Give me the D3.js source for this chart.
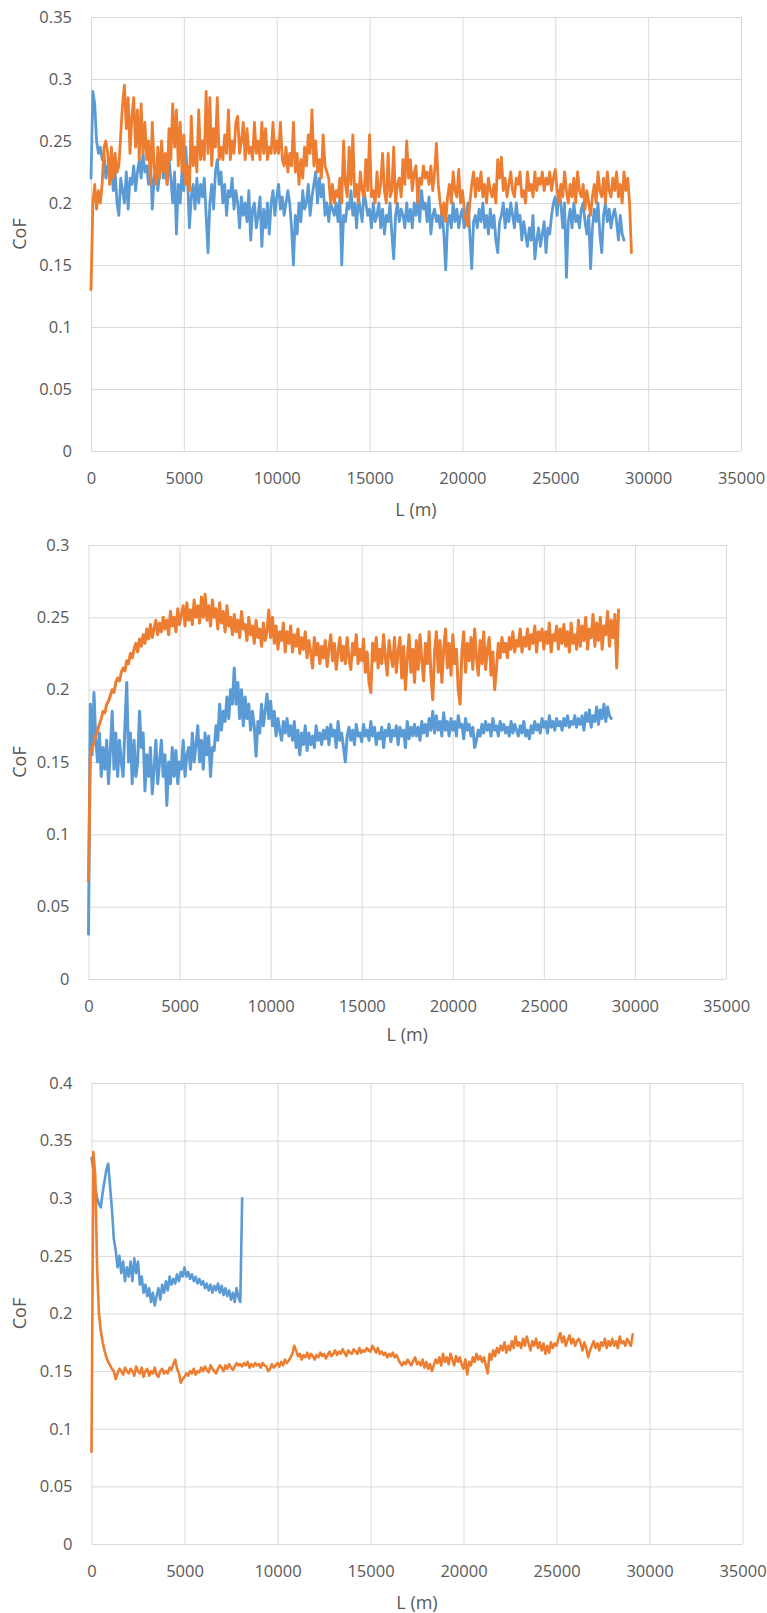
<!DOCTYPE html>
<html><head><meta charset="utf-8">
<script src="https://cdn.jsdelivr.net/npm/d3@7"></script>
<style>
html,body{margin:0;padding:0;background:#fff;}
svg{display:block;}
.tick text{font-family:"Open Sans",sans-serif;font-size:16.5px;fill:#595959;}
.title{font-family:"Open Sans",sans-serif;font-size:18px;fill:#595959;}
</style></head><body>
<svg id="chart" width="767" height="1613"></svg>
<script>
// ---------- tick labels ----------
const xTicks = [0,5000,10000,15000,20000,25000,30000,35000];
const p1YTicks = [0,0.05,0.1,0.15,0.2,0.25,0.3,0.35];
const p2YTicks = [0,0.05,0.1,0.15,0.2,0.25,0.3];
const p3YTicks = [0,0.05,0.1,0.15,0.2,0.25,0.3,0.35,0.4];
const xTitle = "L (m)";
const yTitle = "CoF";
// sampling interval of the series (m)
const STEP = 100;

// ---------- panel 1 ----------
const p1Blue = [
.22,.29,.28,.25,.24,.245,.235,.24,.22,.23,
.225,.23,.21,.225,.2,.19,.22,.21,.2,.225,
.195,.22,.215,.23,.21,.225,.235,.22,.24,.225,
.23,.215,.235,.195,.22,.23,.21,.225,.235,.22,
.23,.215,.235,.22,.2,.225,.175,.215,.2,.225,
.21,.245,.22,.18,.205,.215,.195,.22,.2,.215,
.205,.22,.19,.16,.2,.215,.195,.225,.235,.215,
.225,.2,.215,.19,.21,.205,.22,.195,.21,.2,
.18,.205,.19,.2,.185,.21,.17,.195,.2,.18,
.19,.205,.165,.195,.18,.2,.175,.2,.21,.19,
.205,.215,.195,.205,.19,.2,.21,.2,.18,.15,
.19,.175,.2,.185,.21,.195,.2,.215,.19,.205,
.215,.225,.2,.22,.205,.215,.19,.2,.185,.2,
.195,.19,.2,.185,.205,.15,.19,.185,.2,.195,
.21,.19,.2,.18,.205,.195,.185,.21,.2,.19,
.195,.18,.2,.185,.19,.2,.18,.195,.175,.19,
.185,.2,.175,.155,.19,.2,.185,.195,.19,.18,
.2,.185,.195,.18,.2,.19,.205,.185,.21,.195,
.2,.185,.205,.175,.19,.195,.185,.19,.18,.195,
.175,.146,.185,.19,.18,.2,.185,.195,.18,.19,
.195,.18,.19,.2,.175,.147,.185,.19,.18,.195,
.185,.2,.18,.19,.175,.195,.18,.19,.17,.16,
.185,.19,.2,.18,.195,.185,.2,.19,.18,.2,
.185,.19,.17,.185,.175,.165,.18,.17,.19,.155,
.17,.18,.165,.175,.185,.16,.18,.175,.19,.2,
.205,.19,.21,.2,.18,.2,.14,.185,.195,.18,
.2,.185,.19,.18,.195,.2,.185,.175,.19,.147,
.18,.195,.185,.2,.175,.16,.19,.2,.185,.195,
.18,.19,.195,.185,.17,.19,.175,.17];
const p1Orange = [
.13,.2,.215,.195,.21,.2,.215,.245,.25,.24,
.215,.245,.22,.24,.225,.23,.255,.28,.295,.26,
.285,.24,.27,.285,.245,.275,.235,.28,.24,.265,
.235,.25,.215,.265,.23,.215,.245,.22,.25,.225,
.24,.215,.26,.235,.28,.245,.275,.23,.265,.225,
.255,.215,.23,.21,.27,.23,.245,.225,.275,.235,
.25,.235,.29,.24,.285,.23,.26,.245,.285,.235,
.245,.235,.255,.24,.275,.235,.25,.24,.265,.27,
.24,.25,.265,.235,.26,.24,.245,.235,.265,.24,
.25,.235,.265,.24,.26,.235,.245,.24,.265,.24,
.25,.24,.265,.235,.23,.245,.225,.24,.23,.265,
.225,.24,.215,.235,.22,.245,.23,.255,.24,.275,
.23,.25,.225,.235,.22,.255,.23,.225,.22,.2,
.215,.2,.21,.205,.22,.2,.25,.215,.205,.245,
.215,.255,.205,.215,.2,.225,.21,.205,.235,.21,
.255,.205,.21,.2,.225,.205,.215,.24,.21,.2,
.24,.205,.21,.245,.2,.215,.22,.205,.235,.215,
.25,.22,.235,.21,.225,.23,.2,.22,.215,.23,
.22,.225,.215,.23,.21,.225,.248,.215,.2,.19,
.2,.185,.205,.215,.2,.225,.21,.205,.227,.2,
.21,.195,.185,.181,.2,.215,.225,.205,.22,.21,
.225,.205,.215,.2,.22,.21,.205,.215,.2,.235,
.22,.237,.21,.22,.205,.215,.225,.21,.205,.22,
.215,.225,.205,.21,.2,.225,.21,.215,.205,.225,
.21,.22,.215,.225,.21,.22,.215,.225,.21,.22,
.227,.21,.2,.215,.205,.225,.21,.2,.215,.205,
.22,.2,.225,.21,.205,.215,.195,.21,.2,.19,
.205,.215,.2,.225,.21,.205,.22,.2,.225,.21,
.205,.22,.21,.225,.205,.215,.2,.225,.21,.22,
.2,.16];

// ---------- panel 2 ----------
const p2Blue = [
.031,.19,.155,.198,.165,.15,.17,.14,.16,.145,
.165,.135,.158,.185,.145,.17,.14,.165,.15,.14,
.175,.205,.15,.17,.135,.165,.14,.15,.185,.16,
.17,.13,.155,.14,.16,.128,.145,.165,.135,.15,
.165,.14,.155,.12,.15,.135,.16,.14,.158,.135,
.15,.145,.165,.14,.155,.16,.145,.17,.15,.162,
.175,.15,.165,.145,.17,.155,.168,.14,.16,.158,
.175,.165,.19,.172,.185,.178,.195,.18,.2,.19,
.215,.19,.205,.18,.2,.175,.195,.18,.19,.172,
.185,.175,.154,.178,.17,.19,.175,.185,.197,.18,
.192,.175,.185,.168,.18,.172,.165,.178,.17,.18,
.168,.175,.165,.178,.16,.172,.155,.17,.162,.175,
.158,.17,.162,.168,.16,.175,.165,.17,.162,.172,
.166,.174,.162,.176,.168,.172,.16,.178,.165,.17,
.16,.15,.168,.174,.165,.172,.162,.176,.168,.17,
.164,.176,.168,.172,.165,.178,.168,.174,.162,.17,
.166,.174,.16,.172,.168,.176,.164,.172,.168,.175,
.162,.174,.168,.172,.16,.178,.166,.174,.168,.176,
.168,.174,.165,.178,.17,.176,.168,.18,.172,.185,
.17,.182,.172,.178,.168,.184,.172,.178,.168,.18,
.172,.178,.168,.182,.174,.176,.166,.18,.172,.176,
.168,.174,.16,.165,.172,.168,.176,.17,.178,.172,
.176,.168,.18,.172,.175,.168,.178,.172,.176,.17,
.174,.168,.178,.17,.176,.172,.168,.175,.17,.178,
.168,.172,.166,.175,.17,.178,.172,.176,.17,.18,
.174,.178,.17,.182,.174,.178,.172,.18,.175,.178,
.172,.18,.175,.182,.174,.178,.176,.182,.174,.18,
.176,.182,.172,.184,.178,.186,.174,.182,.178,.188,
.176,.186,.18,.19,.178,.188,.182,.18];
const p2Orange = [
.068,.155,.16,.163,.168,.172,.176,.18,.185,.184,
.19,.192,.196,.2,.198,.205,.208,.206,.212,.215,
.213,.22,.218,.225,.222,.228,.232,.226,.235,.23,
.238,.232,.242,.235,.245,.236,.242,.248,.238,.246,
.24,.25,.242,.248,.238,.254,.244,.25,.24,.256,
.245,.252,.258,.244,.26,.248,.255,.245,.262,.25,
.258,.246,.264,.25,.266,.248,.258,.244,.262,.25,
.256,.242,.26,.246,.254,.24,.258,.244,.25,.238,
.252,.24,.248,.236,.254,.242,.245,.234,.25,.238,
.244,.232,.248,.236,.242,.23,.246,.234,.24,.255,
.236,.25,.232,.244,.228,.24,.234,.246,.226,.24,
.232,.244,.226,.238,.23,.242,.225,.236,.228,.24,
.222,.234,.226,.215,.236,.224,.232,.218,.23,.222,
.234,.216,.228,.238,.22,.232,.214,.226,.236,.22,
.23,.218,.236,.222,.214,.232,.224,.238,.218,.228,
.22,.235,.212,.226,.205,.198,.232,.22,.236,.215,
.228,.218,.238,.222,.21,.234,.224,.216,.236,.212,
.226,.236,.208,.23,.2,.222,.238,.212,.228,.205,
.234,.214,.238,.22,.206,.232,.218,.24,.21,.193,
.226,.24,.212,.234,.205,.228,.242,.215,.232,.21,
.238,.218,.228,.2,.19,.226,.24,.212,.232,.22,
.236,.214,.242,.222,.21,.234,.218,.24,.214,.228,
.236,.21,.226,.2,.215,.232,.222,.236,.226,.232,
.222,.236,.228,.24,.226,.234,.23,.242,.226,.236,
.23,.242,.228,.238,.232,.244,.226,.24,.234,.242,
.228,.24,.232,.246,.226,.238,.234,.244,.228,.242,
.232,.245,.23,.24,.226,.246,.232,.238,.228,.248,
.23,.244,.234,.25,.228,.242,.236,.252,.23,.246,
.234,.25,.228,.244,.238,.254,.23,.248,.236,.252,
.215,.255];

// ---------- panel 3 ----------
const p3Blue = [
.335,.325,.31,.3,.295,.292,.305,.315,.325,.33,
.31,.29,.265,.255,.24,.25,.235,.245,.228,.24,
.232,.245,.228,.248,.235,.245,.225,.232,.218,.225,
.215,.222,.21,.218,.207,.215,.222,.212,.225,.218,
.228,.22,.232,.225,.23,.226,.234,.228,.236,.232,
.24,.232,.236,.23,.234,.228,.232,.226,.23,.225,
.228,.222,.226,.22,.225,.218,.224,.22,.226,.218,
.224,.216,.222,.215,.22,.212,.218,.21,.222,.214,
.21,.3];
const p3Orange = [
.08,.34,.32,.24,.2,.185,.175,.168,.162,.158,
.155,.152,.15,.143,.148,.152,.15,.147,.153,.15,
.148,.152,.15,.146,.154,.15,.148,.153,.145,.15,
.152,.146,.15,.148,.153,.147,.145,.15,.152,.148,
.15,.148,.153,.151,.156,.16,.152,.148,.14,.143,
.145,.148,.146,.15,.148,.152,.147,.15,.149,.153,
.15,.154,.151,.149,.155,.152,.15,.148,.152,.155,
.153,.15,.155,.152,.156,.153,.151,.154,.157,.155,
.156,.154,.157,.155,.158,.153,.156,.154,.157,.155,
.156,.153,.157,.155,.154,.15,.152,.156,.153,.155,
.157,.154,.158,.155,.16,.157,.159,.162,.165,.172,
.168,.163,.165,.16,.164,.162,.166,.161,.165,.163,
.16,.164,.162,.166,.163,.165,.161,.164,.167,.163,
.165,.168,.164,.167,.165,.169,.166,.163,.168,.166,
.165,.169,.167,.165,.17,.166,.168,.167,.17,.168,
.167,.172,.169,.166,.17,.165,.167,.164,.166,.162,
.165,.163,.166,.162,.164,.16,.157,.155,.158,.156,
.16,.157,.155,.159,.162,.156,.158,.155,.16,.153,
.158,.152,.156,.15,.155,.16,.157,.162,.155,.165,
.158,.162,.156,.165,.16,.155,.163,.158,.162,.156,
.152,.16,.147,.158,.155,.162,.158,.165,.16,.163,
.158,.162,.155,.148,.165,.16,.168,.163,.17,.166,
.172,.168,.175,.166,.172,.168,.176,.17,.18,.172,
.175,.17,.178,.172,.18,.174,.168,.176,.172,.178,
.17,.175,.168,.174,.165,.172,.166,.175,.17,.174,
.172,.178,.183,.175,.18,.172,.177,.181,.174,.178,
.172,.176,.178,.174,.168,.175,.17,.162,.168,.172,
.176,.17,.174,.168,.175,.172,.178,.17,.176,.172,
.178,.172,.176,.17,.18,.174,.176,.172,.178,.175,
.172,.182];

// ---------- layout / drawing ----------
const BLUE = "#5b9bd5", ORANGE = "#ed7d31";
const panels = [
  {left:91, right:741, top:17, bottom:451, ymax:0.35, yTicks:p1YTicks, series:[[p1Blue,BLUE],[p1Orange,ORANGE]], xTitleY:510, sw:2.8},
  {left:88.5, right:726, top:545, bottom:979, ymax:0.3, yTicks:p2YTicks, series:[[p2Blue,BLUE],[p2Orange,ORANGE]], xTitleY:1035, sw:3},
  {left:91.5, right:742.5, top:1083, bottom:1544, ymax:0.4, yTicks:p3YTicks, series:[[p3Blue,BLUE],[p3Orange,ORANGE]], xTitleY:1603, sw:2.6}
];
const svg = d3.select("#chart");
svg.append("rect").attr("width",767).attr("height",1613).attr("fill","#fff");

panels.forEach(p => {
  const x = d3.scaleLinear().domain([0,35000]).range([p.left,p.right]);
  const y = d3.scaleLinear().domain([0,p.ymax]).range([p.bottom,p.top]);
  const g = svg.append("g");

  g.append("g").attr("transform",`translate(${p.left},0)`)
    .call(d3.axisLeft(y).tickValues(p.yTicks).tickSize(-(p.right-p.left)).tickPadding(19)
      .tickFormat(d => String(+d.toFixed(2))))
    .call(s => s.select(".domain").remove())
    .call(s => s.selectAll(".tick line").attr("stroke","#d9d9d9"));

  g.append("g").attr("transform",`translate(0,${p.bottom})`)
    .call(d3.axisBottom(x).tickValues(xTicks).tickSize(-(p.bottom-p.top)).tickPadding(21)
      .tickFormat(d3.format("d")))
    .call(s => s.select(".domain").remove())
    .call(s => s.selectAll(".tick line").attr("stroke","#d9d9d9"));

  const line = d3.line().x((d,i) => x(i*STEP)).y(d => y(d));
  p.series.forEach(([vals,color]) => {
    g.append("path").datum(vals).attr("d",line)
      .attr("fill","none").attr("stroke",color).attr("stroke-width",p.sw)
      .attr("stroke-linejoin","round").attr("stroke-linecap","round");
  });

  g.append("text").attr("class","title").attr("text-anchor","middle")
    .attr("x",(p.left+p.right)/2).attr("y",p.xTitleY).attr("dy","0.35em").text(xTitle);
  g.append("text").attr("class","title").attr("text-anchor","middle")
    .attr("transform",`translate(20,${(p.top+p.bottom)/2}) rotate(-90)`)
    .attr("dy","0.35em").text(yTitle);
});
</script>
</body></html>
